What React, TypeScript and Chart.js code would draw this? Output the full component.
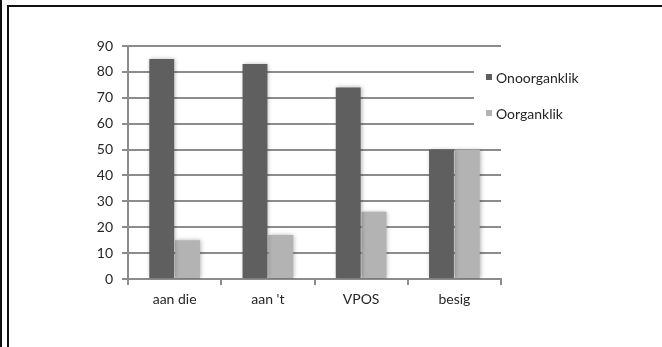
import React, { useEffect, useRef } from "react";
import { Chart, registerables } from "chart.js";

Chart.register(...registerables);

const categories = ["aan die", "aan 't", "VPOS", "besig"];
const seriesNames = ["Onoorganklik", "Oorganklik"];
const onoorganklik = [85, 83, 74, 50];
const oorganklik = [15, 17, 26, 50];
const seriesColors = ["#5f5f5f", "#b3b3b3"];

const FONT = "Lato, 'Open Sans', sans-serif";
const GRID = "#8c8c8c";
const TEXT = "#262626";

const shadowPlugin = {
  id: "barShadow",
  beforeDatasetsDraw(chart: any) {
    const ctx = chart.ctx;
    ctx.save();
    ctx.shadowColor = "rgba(0,0,0,0.28)";
    ctx.shadowBlur = 4;
    ctx.shadowOffsetX = 1;
    ctx.shadowOffsetY = 0;
  },
  afterDatasetsDraw(chart: any) {
    chart.ctx.restore();
  },
};

const legendPlugin = {
  id: "insetLegend",
  afterDraw(chart: any) {
    const ctx = chart.ctx;
    const area = chart.chartArea;
    ctx.save();
    ctx.fillStyle = "#ffffff";
    const x0 = area.right - 27;
    ctx.fillRect(x0, area.top + 11, 170, 78);
    ctx.font = "14px " + FONT;
    ctx.textBaseline = "middle";
    ctx.textAlign = "left";
    seriesNames.forEach((name, i) => {
      const cy = area.top + 31 + i * 36;
      ctx.fillStyle = seriesColors[i];
      ctx.fillRect(x0 + 12, cy - 3, 6, 6);
      ctx.fillStyle = TEXT;
      ctx.fillText(name, x0 + 22, cy + 1);
    });
    ctx.restore();
  },
};

export default function App() {
  const ref = useRef<HTMLCanvasElement | null>(null);
  useEffect(() => {
    if (!ref.current) return;
    const chart = new Chart(ref.current, {
      type: "bar",
      data: {
        labels: categories,
        datasets: [
          {
            label: seriesNames[0],
            data: onoorganklik,
            backgroundColor: seriesColors[0],
            borderWidth: 0,
            categoryPercentage: 0.553,
            barPercentage: 0.965,
          },
          {
            label: seriesNames[1],
            data: oorganklik,
            backgroundColor: seriesColors[1],
            borderWidth: 0,
            categoryPercentage: 0.553,
            barPercentage: 0.965,
          },
        ],
      },
      options: {
        responsive: false,
        animation: false,
        devicePixelRatio: 1,
        layout: { padding: { top: 46, right: 161, left: 0, bottom: 0 } },
        plugins: {
          legend: { display: false },
          tooltip: { enabled: false },
        },
        scales: {
          x: {
            grid: {
              display: true,
              drawOnChartArea: false,
              drawTicks: true,
              tickLength: 6,
              color: GRID,
              lineWidth: 2,
              offset: true,
            },
            border: { display: true, color: GRID, width: 2 },
            ticks: {
              font: { family: FONT, size: 14 },
              color: TEXT,
              padding: 6,
              maxRotation: 0,
            },
            afterFit: (s: any) => {
              s.height = 68;
            },
          },
          y: {
            min: 0,
            max: 90,
            ticks: {
              stepSize: 10,
              font: { family: FONT, size: 14 },
              color: TEXT,
              padding: 9,
            },
            grid: {
              color: GRID,
              lineWidth: 2,
              tickLength: 6,
              drawTicks: true,
            },
            border: { display: true, color: GRID, width: 2 },
            afterFit: (s: any) => {
              s.width = 128;
            },
          },
        },
      },
      plugins: [shadowPlugin, legendPlugin],
    });
    return () => chart.destroy();
  }, []);

  return (
    <div
      style={{
        position: "fixed",
        left: 0,
        top: 0,
        width: 662,
        height: 347,
        background: "#fff",
        overflow: "hidden",
      }}
    >
      <canvas
        ref={ref}
        width={662}
        height={347}
        style={{ position: "absolute", left: 0, top: 0, width: 662, height: 347 }}
      />
      <div
        style={{
          position: "absolute",
          left: 0,
          top: 0,
          width: 2,
          height: 347,
          background: "#111",
        }}
      />
      <div
        style={{
          position: "absolute",
          left: 7,
          top: 5,
          width: 700,
          height: 400,
          borderTop: "2px solid #111",
          borderLeft: "2px solid #111",
          boxSizing: "border-box",
        }}
      />
    </div>
  );
}
